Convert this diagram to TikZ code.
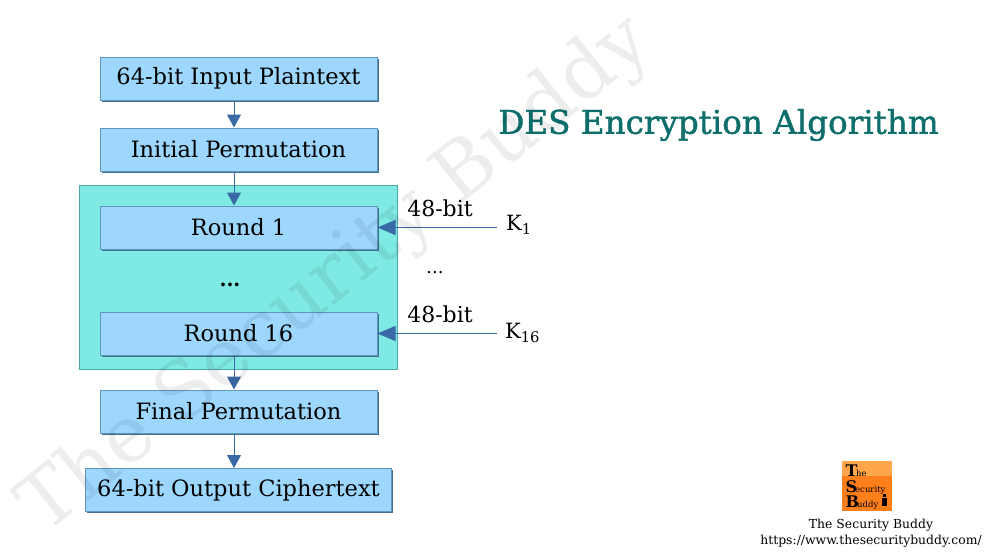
\documentclass[tikz,border=0pt]{standalone}
\usepackage{fontspec}
\setmainfont{DejaVu Serif}
\newfontfamily\titlefont[FakeBold=1.3]{DejaVu Serif}
\usetikzlibrary{arrows.meta, shadows}
\definecolor{boxfill}{HTML}{9DD7FE}
\definecolor{boxline}{HTML}{5F97BC}
\definecolor{boxshade}{HTML}{41708F}
\definecolor{roundsfill}{HTML}{7FE9E3}
\definecolor{roundsline}{HTML}{4DA9A6}
\definecolor{arrowblue}{HTML}{3A6AA6}
\definecolor{titleteal}{HTML}{0D6E6B}
\definecolor{logolight}{HTML}{FFA64D}
\definecolor{logodark}{HTML}{FF7F1A}
\tikzstyle{stage} = [rectangle, minimum width=277pt, minimum height=43pt, inner sep=0pt, text centered, font=\fontsize{22.5}{26}\selectfont, draw=boxline, line width=1pt, fill=boxfill, drop shadow={shadow xshift=1.6pt, shadow yshift=-1.6pt, fill=boxshade, opacity=1}]
\tikzstyle{roundsbox} = [rectangle, minimum width=318pt, minimum height=184pt, draw=roundsline, line width=1pt, fill=roundsfill]
\tikzstyle{arrow} = [draw=arrowblue, line width=1pt, -{Triangle[length=13pt, width=14pt]}]
\tikzstyle{keyarrow} = [draw=arrowblue, line width=1pt, -{Triangle[length=18pt, width=15pt]}]
\tikzstyle{bitlabel} = [font=\fontsize{22}{26}\selectfont, anchor=center, inner sep=0pt]
\tikzstyle{keylabel} = [font=\fontsize{21}{25}\selectfont, anchor=west, inner sep=0pt]
\tikzstyle{logotext} = [anchor=base west, inner sep=0pt]
\begin{document}
\begin{tikzpicture}[x=1pt, y=-1pt, node distance=78pt]
\useasboundingbox (0,0) rectangle (992,558);
\node (rounds) [roundsbox] at (238,277) {};
\node (input) [stage] at (238.5,78.5) {64-bit Input Plaintext};
\node (initial) [stage, below of=input, yshift=7pt] {Initial Permutation};
\node (round1) [stage, below of=initial] {Round 1};
\node (round16) [stage, below of=round1, yshift=-28pt] {Round 16};
\node (final) [stage, below of=round16] {Final Permutation};
\node (output) [stage, below of=final, minimum width=306pt, yshift=-0.5pt] {64-bit Output Ciphertext};
\node (dotsa) [font=\fontsize{20}{24}\selectfont\bfseries, inner sep=0pt] at (230,285) {...};
\node (dotsb) [font=\fontsize{18}{22}\selectfont, inner sep=0pt] at (435,273) {...};
\node (bita) [bitlabel] at (440,208) {48-bit};
\node (bitb) [bitlabel] at (440,314) {48-bit};
\node (k1) [keylabel] at (506,225) {K\textsubscript{1}};
\node (k16) [keylabel] at (505,333) {K\textsubscript{16}};
\node (title) [font=\fontsize{32.6}{38}\titlefont, text=titleteal, inner sep=0pt] at (718.5,125) {DES Encryption Algorithm};
\draw [arrow] (input.south -| 234,0) -- (initial.north -| 234,0);
\draw [arrow] (initial.south -| 234,0) -- (round1.north -| 234,0);
\draw [arrow] (round16.south -| 234,0) -- (final.north -| 234,0);
\draw [arrow] (final.south -| 234,0) -- (output.north -| 234,0);
\coordinate (k1end) at (497,227.5);
\coordinate (k16end) at (497,333.5);
\draw [keyarrow] (k1end) -- (round1.east);
\draw [keyarrow] (k16end) -- (round16.east);
% logo
\fill [logodark] (842,461) rectangle (892,511);
\fill [logolight] (842,461) rectangle (892,476);
\node (logot) [logotext, font=\fontsize{16}{16}\selectfont\bfseries] at (845.5,476) {T};
\node (logohe) [logotext, font=\fontsize{8.5}{9}\selectfont] at (856,476) {he};
\node (logos) [logotext, font=\fontsize{16}{16}\selectfont\bfseries] at (845.5,492) {S};
\node (logoec) [logotext, font=\fontsize{8.5}{9}\selectfont] at (855,492) {ecurity};
\node (logob) [logotext, font=\fontsize{16}{16}\selectfont\bfseries] at (845.5,507) {B};
\node (logoud) [logotext, font=\fontsize{8.5}{9}\selectfont] at (857,507) {uddy};
\fill [black] (882.5,494) rectangle (885.5,497);
\fill [black] (881.5,498) rectangle (886.5,506);
\node (tsbname) [font=\fontsize{12.4}{14}\selectfont, inner sep=0pt] at (871,525) {The Security Buddy};
\node (tsburl) [font=\fontsize{12.4}{14}\selectfont, inner sep=0pt] at (871,541) {https://www.thesecuritybuddy.com/};
% watermark
\node (watermark) [font=\fontsize{78}{84}\selectfont, text=black, opacity=0.07, rotate=38.5, inner sep=0pt] at (337,276) {The Security Buddy};
\end{tikzpicture}
\end{document}
